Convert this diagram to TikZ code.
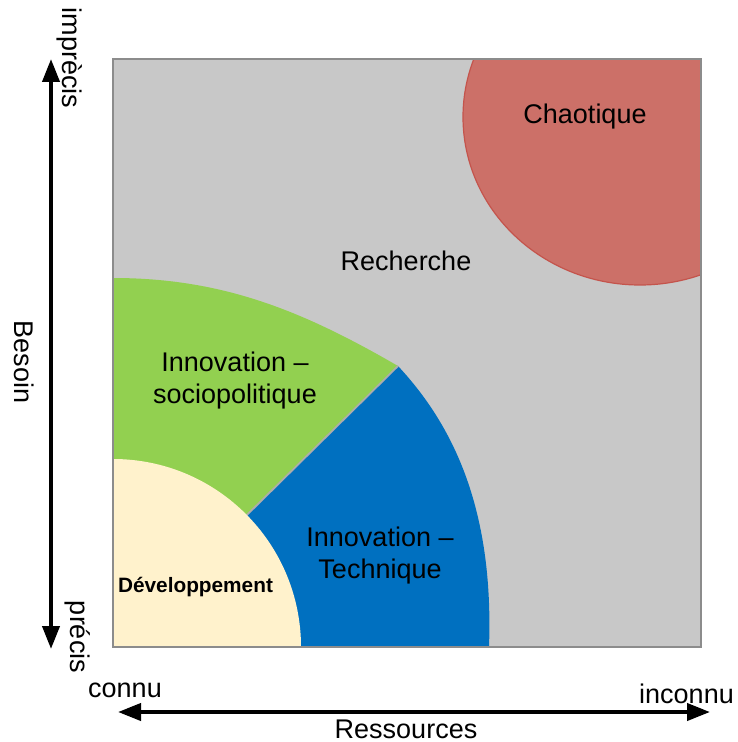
\documentclass[tikz,border=0pt]{standalone}
\usepackage{fontspec}
\setmainfont{Liberation Sans}
\usetikzlibrary{arrows.meta}
\definecolor{bgray}{RGB}{200,200,200}
\definecolor{frame}{RGB}{140,140,140}
\definecolor{chaos}{RGB}{204,112,104}
\definecolor{chaosline}{RGB}{196,84,76}
\definecolor{socio}{RGB}{146,208,80}
\definecolor{tech}{RGB}{0,112,192}
\definecolor{dev}{RGB}{255,242,204}
\tikzset{
  lbl/.style={font=\fontsize{13.5}{16}\selectfont, inner sep=0pt, align=center},
  devlbl/.style={font=\fontsize{10.4}{12}\selectfont\bfseries, inner sep=0pt},
  axis/.style={line width=2pt, {Triangle[length=11.5pt,width=8.5pt]}-{Triangle[length=11.5pt,width=8.5pt]}}
}
\begin{document}
\begin{tikzpicture}[x=0.5pt,y=-0.5pt]
\useasboundingbox (0,0) rectangle (737,742);
% background square
\fill[bgray] (113,59) rectangle (701,647);
% chaotic region
\begin{scope}
  \clip (113,59) rectangle (701,647);
  \filldraw[fill=chaos, draw=chaosline, line width=0.6pt] (640,117) ellipse [x radius=88.5pt, y radius=84pt];
\end{scope}
% green sector
\fill[socio] (113,647) -- (113,278) .. controls (223,278) and (303,311) .. (398,366) -- cycle;
% blue sector
\fill[tech] (113,647) -- (398,366) .. controls (452,424) and (494,507) .. (489,647) -- cycle;
% divider
\draw[gray!65, line width=0.9pt] (113,647) -- (398,366);
% yellow sector
\fill[dev] (113,647) -- (301,647) arc[start angle=0, end angle=-90, radius=188] -- cycle;
% frame
\draw[frame, line width=1pt] (113,59) rectangle (701,647);
% labels
\node[lbl, anchor=base] (chaotique) at (585,124) {Chaotique};
\node[lbl, anchor=base] (recherche) at (406,271) {Recherche};
\node[lbl] (socio) at (235,381) {Innovation –\\sociopolitique};
\node[lbl] (tech) at (380,556) {Innovation –\\Technique};
\node[devlbl, anchor=base] (dev) at (195.5,592) {Développement};
% axes
\coordinate (vtop) at (51,59);
\coordinate (vbot) at (51,649);
\draw[axis] (vtop) -- (vbot);
\coordinate (hleft) at (118,712);
\coordinate (hright) at (710,712);
\draw[axis] (hleft) -- (hright);
\node[lbl, rotate=-90] (imprecis) at (70,58) {imprècis};
\node[lbl, rotate=-90] (besoin) at (24,362) {Besoin};
\node[lbl, rotate=-90] (precis) at (78,637) {précis};
\node[lbl, anchor=base] (connu) at (125,697) {connu};
\node[lbl, anchor=base] (inconnu) at (686.5,703) {inconnu};
\node[lbl, anchor=base] (ressources) at (406,738.5) {Ressources};
\end{tikzpicture}
\end{document}
